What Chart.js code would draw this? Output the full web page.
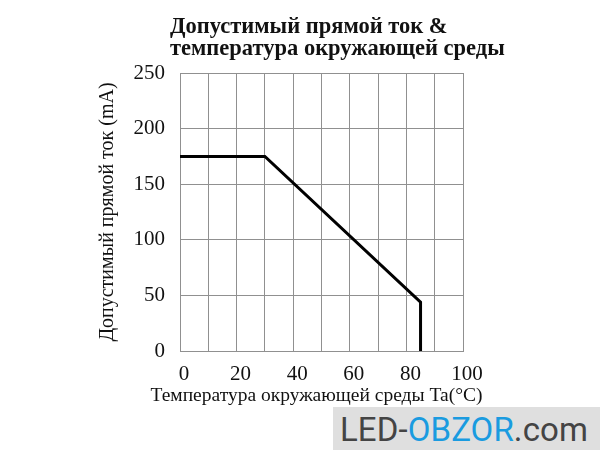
<!DOCTYPE html>
<html>
<head>
<meta charset="utf-8">
<script src="https://cdn.jsdelivr.net/npm/chart.js@4/dist/chart.umd.min.js"></script>
<style>
    html, body { margin: 0; padding: 0; background: #fff; }
    #wrap { position: relative; width: 600px; height: 450px; }
    #watermark {
        position: absolute; left: 333px; top: 407px; width: 267px; height: 43px;
        background: #dfdfdf; font-family: Roboto, sans-serif; font-size: 33px;
        line-height: 45px; color: #444; text-align: right; box-sizing: border-box;
        padding-right: 12px; letter-spacing: 0.1px;
    }
    #watermark .blue { color: #1a9be0; }
</style>
</head>
<body>
<div id="wrap">
    <canvas id="chart" width="600" height="450"></canvas>
    <div id="watermark">LED-<span class="blue">OBZOR</span>.com</div>
</div>
<script>
// derating curve: permissible forward current vs ambient temperature
const temperatures = [0, 30, 85, 85];
const currents = [175, 175, 44, 0];
const xTicks = [0, 20, 40, 60, 80, 100];
const yTicks = [0, 50, 100, 150, 200, 250];
const titleLines = ['Допустимый прямой ток &', 'температура окружающей среды'];
const xTitle = 'Температура окружающей среды Ta(°C)';

const SERIF = '"Liberation Serif", "Times New Roman", serif';

// title and x label are wider than the plot, so draw them by hand
// (the built-in scale title gets squeezed to the axis width)
const textPlugin = {
    id: 'freeText',
    afterDraw(chart) {
        const ctx = chart.ctx;
        const area = chart.chartArea;
        ctx.save();
        ctx.fillStyle = '#111';
        ctx.font = 'bold 22.5px ' + SERIF;
        ctx.textBaseline = 'alphabetic';
        ctx.textAlign = 'left';
        ctx.fillText(titleLines[0], area.left - 10, 33);
        ctx.fillText(titleLines[1], area.left - 10, 55);

        ctx.font = '19.5px ' + SERIF;
        ctx.textAlign = 'center';
        ctx.textBaseline = 'middle';
        ctx.fillText(xTitle, (area.left + area.right) / 2 - 5, area.bottom + 45);
        ctx.restore();
    }
};

const ctx = document.getElementById('chart').getContext('2d');
new Chart(ctx, {
    type: 'scatter',
    data: {
        datasets: [{
            data: temperatures.map((t, i) => ({ x: t, y: currents[i] })),
            showLine: true,
            borderColor: '#000',
            borderWidth: 3,
            pointRadius: 0,
            tension: 0
        }]
    },
    options: {
        responsive: false,
        animation: false,
        layout: { padding: { left: 95, right: 137, top: 73, bottom: 33 } },
        plugins: { legend: { display: false }, tooltip: { enabled: false } },
        scales: {
            x: {
                type: 'linear', min: 0, max: 100,
                afterFit: (s) => { s.height = 66; },
                grid: { color: '#909090', drawTicks: false },
                border: { color: '#909090' },
                ticks: {
                    stepSize: 10, autoSkip: false, maxRotation: 0, padding: 11,
                    labelOffset: 4,
                    color: '#111', font: { family: SERIF, size: 21 },
                    callback: (v) => xTicks.includes(v) ? String(v) : ''
                }
            },
            y: {
                type: 'linear', min: 0, max: 250,
                afterFit: (s) => { s.width = 85; },
                grid: { color: '#909090', drawTicks: false },
                border: { color: '#909090' },
                ticks: {
                    stepSize: 50, padding: 15,
                    color: '#111', font: { family: SERIF, size: 21 },
                    callback: (v) => yTicks.includes(v) ? String(v) : ''
                },
                title: {
                    display: true, text: 'Допустимый прямой ток (mA)',
                    color: '#111', font: { family: SERIF, size: 20 },
                    padding: { top: 1, bottom: 0 }
                }
            }
        }
    },
    plugins: [textPlugin]
});
</script>
</body>
</html>
